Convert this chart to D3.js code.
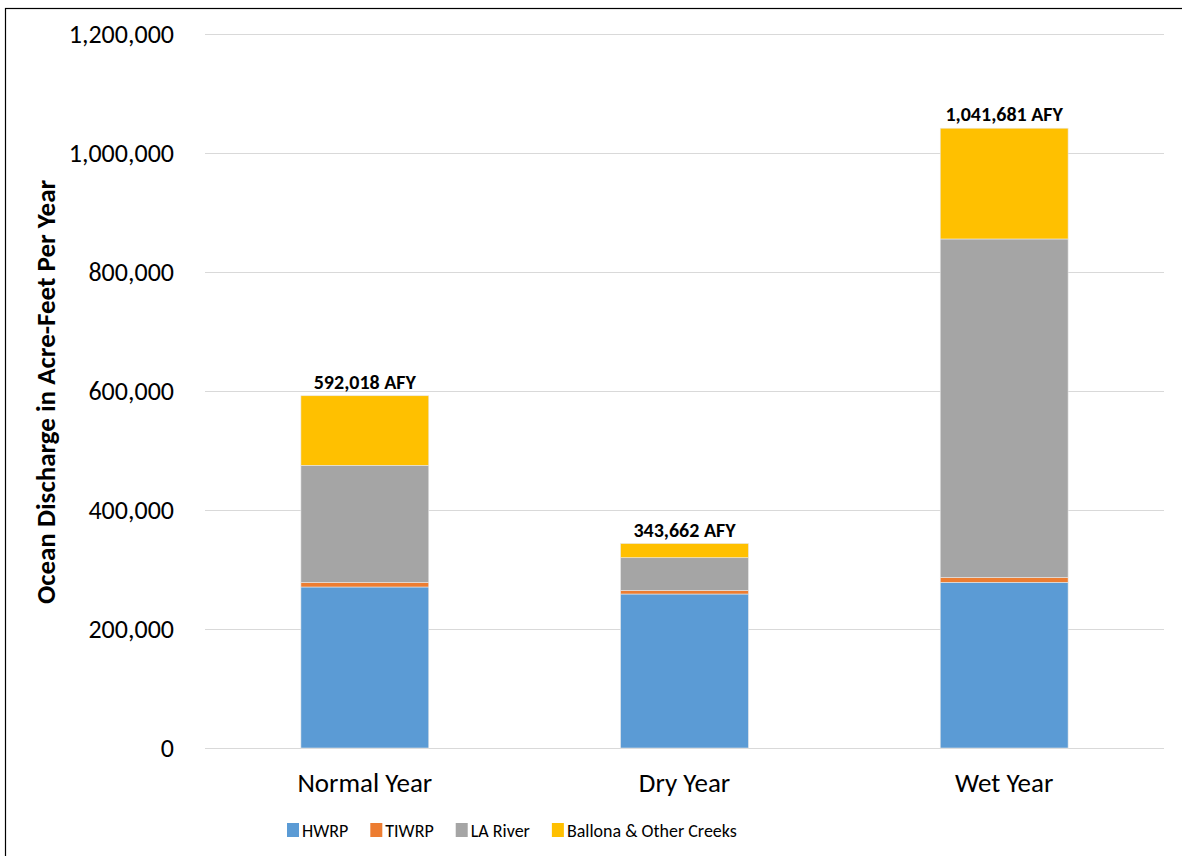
<!DOCTYPE html>
<html>
<head>
<meta charset="utf-8">
<script src="https://cdn.jsdelivr.net/npm/d3@7"></script>
<style>
  html, body { margin: 0; padding: 0; background: #fff; }
  svg { display: block; font-family: Carlito, Calibri, Lato, "Open Sans", sans-serif; }
</style>
</head>
<body>
<svg id="chart" width="1182" height="856"></svg>
<script>
const categories = ["Normal Year", "Dry Year", "Wet Year"];
const seriesNames = ["HWRP", "TIWRP", "LA River", "Ballona & Other Creeks"];
const hwrp    = [270600, 258800, 278500];
const tiwrp   = [7900, 6200, 8400];
const laRiver = [196600, 54800, 568600];
const ballona = [116918, 23862, 186181];
const totalLabels = ["592,018 AFY", "343,662 AFY", "1,041,681 AFY"];
const yTicks = [0, 200000, 400000, 600000, 800000, 1000000, 1200000];
const colors = ["#5B9BD5", "#ED7D31", "#A5A5A5", "#FFC000"];

const svg = d3.select("#chart");
const W = 1182, H = 856;
const margin = { left: 205, right: 18, top: 34, bottom: 108 };
const plotW = W - margin.left - margin.right;
const plotH = H - margin.top - margin.bottom;

// outer frame
svg.append("rect").attr("x", 5.5).attr("y", 8.5).attr("width", W).attr("height", H)
  .attr("fill", "none").attr("stroke", "#000").attr("stroke-width", 1.2);

const g = svg.append("g").attr("transform", `translate(${margin.left},${margin.top})`);

const x = d3.scaleBand().domain(categories).range([0, plotW]).paddingInner(0.6).paddingOuter(0.3);
const y = d3.scaleLinear().domain([0, 1200000]).range([plotH, 0]);

// gridlines
g.append("g").selectAll("line").data(yTicks).join("line")
  .attr("x1", 0).attr("x2", plotW)
  .attr("y1", d => Math.round(y(d)) + 0.5).attr("y2", d => Math.round(y(d)) + 0.5)
  .attr("stroke", "#d9d9d9").attr("stroke-width", 1);

// y axis labels
const yAxis = d3.axisLeft(y).tickValues(yTicks).tickFormat(d3.format(",")).tickSize(0).tickPadding(31);
const ya = g.append("g").call(yAxis).attr("font-family", null).attr("font-size", null);
ya.select(".domain").remove();
ya.selectAll("text").attr("font-size", 26).attr("fill", "#000").attr("dy", "0.33em");

// stacked data
const table = categories.map((c, i) => ({
  cat: c, HWRP: hwrp[i], TIWRP: tiwrp[i], "LA River": laRiver[i], "Ballona & Other Creeks": ballona[i]
}));
const stack = d3.stack().keys(seriesNames)(table);

g.append("g").selectAll("g").data(stack).join("g")
  .attr("fill", (d, i) => colors[i])
  .selectAll("rect").data(d => d).join("rect")
  .attr("x", d => x(d.data.cat))
  .attr("width", x.bandwidth())
  .attr("y", d => y(d[1]))
  .attr("height", d => y(d[0]) - y(d[1]))
  .attr("stroke", "#e8e8e8").attr("stroke-width", 0.6);

// total labels
const totals = categories.map((c, i) => hwrp[i] + tiwrp[i] + laRiver[i] + ballona[i]);
g.append("g").selectAll("text").data(categories).join("text")
  .attr("x", d => x(d) + x.bandwidth() / 2)
  .attr("y", (d, i) => y(totals[i]) - 7)
  .attr("text-anchor", "middle")
  .attr("font-size", 20).attr("font-weight", "bold").attr("fill", "#000")
  .text((d, i) => totalLabels[i]);

// x axis
const xAxis = d3.axisBottom(x).tickSize(0);
const xa = g.append("g").attr("transform", `translate(0,${plotH})`).call(xAxis)
  .attr("font-family", null).attr("font-size", null);
xa.select(".domain").remove();
xa.selectAll("text").attr("font-size", 27).attr("fill", "#000").attr("dy", null).attr("y", 44);

// y title
svg.append("text")
  .attr("transform", `translate(55,${margin.top + y(600000) + 1}) rotate(-90)`)
  .attr("text-anchor", "middle")
  .attr("font-size", 27).attr("font-weight", "bold").attr("fill", "#000")
  .text("Ocean Discharge in Acre-Feet Per Year");

// legend
const legend = svg.append("g");
const items = legend.selectAll("g").data(seriesNames).join("g");
items.append("rect").attr("width", 12).attr("height", 14).attr("y", -14)
  .attr("fill", (d, i) => colors[i]);
items.append("text").attr("x", 15).attr("y", 0).attr("font-size", 18).attr("fill", "#000").text(d => d);
let cx = 0;
const gap = 22;
items.each(function () {
  const w = this.getBBox().width;
  d3.select(this).attr("transform", `translate(${cx},0)`);
  cx += w + gap;
});
legend.attr("transform", `translate(287,837)`);
</script>
</body>
</html>
